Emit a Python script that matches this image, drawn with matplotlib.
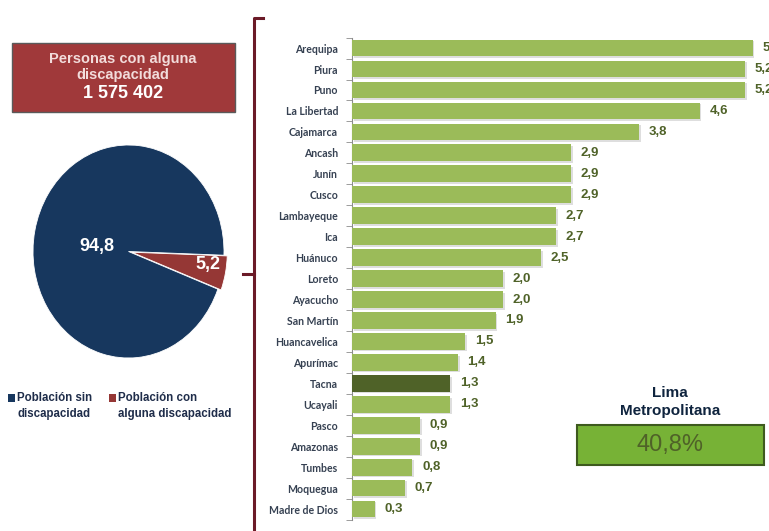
import matplotlib
matplotlib.use("Agg")
import matplotlib.pyplot as plt
import matplotlib.patheffects as pe
from matplotlib.patches import Rectangle
from matplotlib.lines import Line2D

# ---------------- data ----------------
departamentos = ["Arequipa", "Piura", "Puno", "La Libertad", "Cajamarca", "Ancash",
                 "Junín", "Cusco", "Lambayeque", "Ica", "Huánuco", "Loreto",
                 "Ayacucho", "San Martín", "Huancavelica", "Apurímac", "Tacna",
                 "Ucayali", "Pasco", "Amazonas", "Tumbes", "Moquegua", "Madre de Dios"]
porcentajes = [5.3, 5.2, 5.2, 4.6, 3.8, 2.9, 2.9, 2.9, 2.7, 2.7, 2.5, 2.0,
               2.0, 1.9, 1.5, 1.4, 1.3, 1.3, 0.9, 0.9, 0.8, 0.7, 0.3]
destacado = "Tacna"

pie_labels = ["Población con\nalguna discapacidad", "Población sin\ndiscapacidad"]
pie_values = [5.2, 94.8]
total_discapacidad = "1 575 402"
lima_valor = "40,8%"

W, H = 769, 531
fig = plt.figure(figsize=(W / 100, H / 100), dpi=100)
fig.patch.set_facecolor("white")

def fx(x):
    return x / W

def fy(y):
    return 1 - y / H

GREEN = "#9BBB59"
DARKGREEN = "#4F6228"
NAVY = "#17375E"
RED = "#953735"

# ---------------- bar chart ----------------
axb = fig.add_axes([fx(352), fy(519.5), 1 - fx(352), 481.9 / H])
ypos = list(range(len(departamentos)))
colors = [DARKGREEN if d == destacado else GREEN for d in departamentos]
bars = axb.barh(ypos, porcentajes, height=0.8, color=colors, zorder=3)
for b in bars:
    b.set_path_effects([pe.SimplePatchShadow(offset=(1.2, -1.2), shadow_rgbFace="#D0D0D0", alpha=0.7), pe.Normal()])
axb.set_ylim(len(departamentos) - 0.5, -0.5)
axb.set_xlim(0, 417 / 75.6)
axb.set_yticks(ypos)
axb.set_yticklabels(departamentos, fontfamily="Lato", fontweight="bold", fontsize=7.6, color="#364152")
axb.tick_params(axis="y", which="major", length=0, pad=10)
axb.set_yticks([i - 0.5 for i in range(len(departamentos) + 1)], minor=True)
axb.tick_params(axis="y", which="minor", length=4, color="#8C8C8C", direction="out")
axb.set_xticks([])
for s in ["top", "right", "bottom"]:
    axb.spines[s].set_visible(False)
axb.spines["left"].set_color("#8C8C8C")
axb.patch.set_alpha(0)
for y, v in zip(ypos, porcentajes):
    axb.annotate(f"{v:.1f}".replace(".", ","), (v, y), xytext=(7, 0), textcoords="offset points",
                 ha="left", va="center", fontsize=9.5, fontweight="bold",
                 fontfamily="Liberation Sans", color=DARKGREEN, annotation_clip=False)

# ---------------- pie ----------------
axp = fig.add_axes([fx(33), fy(358), (224 - 33) / W, (358 - 145) / H])
wedges, _ = axp.pie(pie_values, colors=[RED, NAVY], startangle=-2, counterclock=False,
                    explode=[0.035, 0], wedgeprops=dict(linewidth=0.6, edgecolor="white"))
axp.set_aspect("auto")
axp.set_xlim(-1, 1)
axp.set_ylim(-1, 1)
axp.axis("off")
fig.text(fx(97), fy(247), "94,8", ha="center", va="center", fontsize=13, fontweight="bold",
         color="white", fontfamily="Liberation Sans")
fig.text(fx(208), fy(265), "5,2", ha="center", va="center", fontsize=13, fontweight="bold",
         color="white", fontfamily="Liberation Sans")

# ---------------- title box ----------------
fig.patches.append(Rectangle((fx(12), fy(112)), fx(235) - fx(12), fy(43) - fy(112),
                             transform=fig.transFigure, facecolor="#A0393A",
                             edgecolor="#5A5A5A", linewidth=1.0, zorder=1))
fig.text(fx(123), fy(59), "Personas con alguna", ha="center", va="center", fontsize=10.5,
         fontweight="bold", color="#F2DCDB", fontfamily="Liberation Sans")
fig.text(fx(123), fy(75), "discapacidad", ha="center", va="center", fontsize=10.5,
         fontweight="bold", color="#F2DCDB", fontfamily="Liberation Sans")
fig.text(fx(123), fy(94), total_discapacidad, ha="center", va="center", fontsize=13,
         fontweight="bold", color="white", fontfamily="Liberation Sans")

# ---------------- legend ----------------
fig.patches.append(Rectangle((fx(8), fy(402)), 7 / W, 8 / H, transform=fig.transFigure,
                             facecolor=NAVY, edgecolor="none"))
fig.patches.append(Rectangle((fx(109), fy(402)), 7 / W, 8 / H, transform=fig.transFigure,
                             facecolor=RED, edgecolor="none"))
fig.text(fx(17), fy(406), pie_labels[1], ha="left", va="center", fontsize=8.3,
         fontweight="bold", color="#1F2D4A", fontfamily="Liberation Sans", linespacing=1.45)
fig.text(fx(118), fy(406), pie_labels[0], ha="left", va="center", fontsize=8.3,
         fontweight="bold", color="#1F2D4A", fontfamily="Liberation Sans", linespacing=1.45)

# ---------------- bracket ----------------
BR = "#6B1A27"
fig.add_artist(Line2D([fx(263), fx(254), fx(254)], [fy(18), fy(18), fy(531)],
                      transform=fig.transFigure, color=BR, linewidth=2.2))
fig.add_artist(Line2D([fx(243), fx(254)], [fy(274), fy(274)],
                      transform=fig.transFigure, color=BR, linewidth=2.2))

# ---------------- Lima box ----------------
fig.text(fx(670), fy(393), "Lima", ha="center", va="center", fontsize=11,
         fontweight="bold", color="#0F243E", fontfamily="Liberation Sans")
fig.text(fx(670), fy(411), "Metropolitana", ha="center", va="center", fontsize=11,
         fontweight="bold", color="#0F243E", fontfamily="Liberation Sans")
fig.patches.append(Rectangle((fx(577), fy(465)), fx(764) - fx(577), fy(425) - fy(465),
                             transform=fig.transFigure, facecolor="#77B236",
                             edgecolor="#3E5A1E", linewidth=1.5))
fig.text(fx(670), fy(445), lima_valor, ha="center", va="center", fontsize=17,
         color=DARKGREEN, fontfamily="Liberation Sans")

fig.savefig("out.png", dpi=100)
